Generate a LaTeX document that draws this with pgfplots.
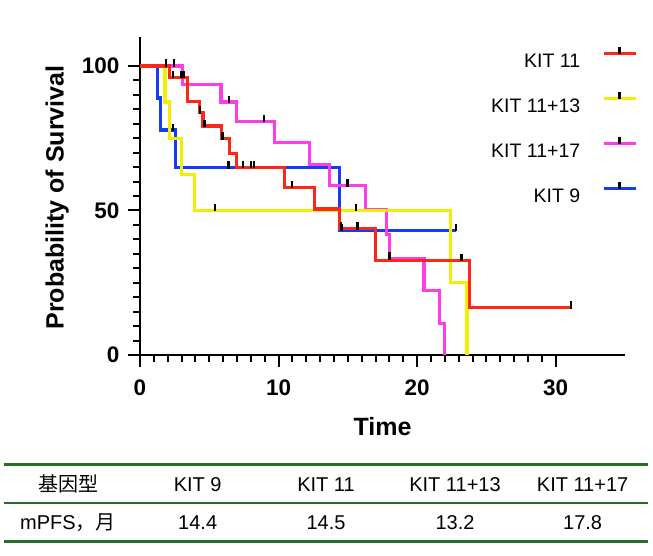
\documentclass[border=0pt]{standalone}
\usepackage{fontspec}
\setmainfont{Liberation Sans}
\newfontfamily\cjk{Noto Sans CJK SC}
\usepackage{pgfplots}
\pgfplotsset{compat=1.18}
\definecolor{kred}{RGB}{250,40,20}
\definecolor{kyel}{RGB}{240,240,0}
\definecolor{kmag}{RGB}{255,60,235}
\definecolor{kblu}{RGB}{20,60,245}
\definecolor{tgreen}{RGB}{40,110,40}
\pgfdeclareplotmark{censor}{\pgfpathmoveto{\pgfpoint{0pt}{-1pt}}\pgfpathlineto{\pgfpoint{0pt}{6.5pt}}\pgfusepathqstroke}
\begin{document}
\begin{tikzpicture}
\path[use as bounding box] (0pt,0pt) rectangle (653pt,-556pt);
\begin{axis}[
  at={(140pt,-355pt)}, anchor=south west,
  scale only axis, width=485pt, height=318pt,
  xmin=0, xmax=35, ymin=0, ymax=110,
  axis lines=left,
  axis line style={-, line width=2.5pt, black},
  xtick={0,10,20,30}, ytick={0,50,100},
  minor x tick num=9, minor y tick num=9,
  tick align=outside,
  major tick length=12pt, minor tick length=7pt,
  every tick/.style={black, line width=2pt},
  /pgf/number format/assume math mode=true,
  tick label style={font=\fontsize{22.5}{26}\selectfont\bfseries},
  xticklabel style={yshift=-9.5pt},
  yticklabel style={xshift=-5pt},
  xlabel={Time}, ylabel={Probability of Survival},
  every axis x label/.style={at={(axis description cs:0.5,-0.226)}, anchor=center, font=\fontsize{25}{30}\selectfont\bfseries},
  every axis y label/.style={at={(axis description cs:-0.171,0.495)}, rotate=90, anchor=center, font=\fontsize{25}{30}\selectfont\bfseries},
  clip=false,
  reverse legend,
  legend cell align=right, legend plot pos=right,
  legend style={draw=none, fill=none, at={(rel axis cs:1.0254,0.972)}, anchor=north east,
    font=\fontsize{19.5}{23}\selectfont, row sep=23pt, column sep=21.7pt, inner sep=0pt,
    nodes={inner sep=0pt, text height=14pt, text depth=0pt}},
]
% KIT 9
\addplot[kblu, line width=3.2pt, const plot,
  legend image code/.code={\draw[kblu,line width=3.2pt] (0pt,7pt) -- (32pt,7pt); \draw[black,line width=2.5pt] (16pt,6.5pt) -- (16pt,13.5pt);}]
  table {
x y
0 100
1.25 88.9
1.5 77.8
2.55 64.8
14.4 43.2
22.8 43.2
};
\addlegendentry{KIT 9}
% KIT 11+17
\addplot[kmag, line width=3.2pt, const plot,
  legend image code/.code={\draw[kmag,line width=3.2pt] (0pt,7pt) -- (32pt,7pt); \draw[black,line width=2.5pt] (16pt,6.5pt) -- (16pt,13.5pt);}]
  table {
x y
0 100
3.05 93.5
5.85 87.5
6.95 80.8
9.7 73.5
12.25 66
13.7 58.6
16.25 50.3
17.8 41.6
18.0 33.3
20.5 22.3
21.6 10.8
22.0 0
};
\addlegendentry{KIT 11+17}
% KIT 11+13
\addplot[kyel, line width=3.2pt, const plot,
  legend image code/.code={\draw[kyel,line width=3.2pt] (0pt,7pt) -- (32pt,7pt); \draw[black,line width=2.5pt] (16pt,6.5pt) -- (16pt,13.5pt);}]
  table {
x y
0 100
1.8 87.5
2.15 75
3.0 62.5
3.95 50
22.4 25
23.6 0
};
\addlegendentry{KIT 11+13}
% KIT 11
\addplot[kred, line width=3.2pt, const plot,
  legend image code/.code={\draw[kred,line width=3.2pt] (0pt,7pt) -- (32pt,7pt); \draw[black,line width=2.5pt] (16pt,6.5pt) -- (16pt,13.5pt);}]
  table {
x y
0 100
2.1 96
3.45 87.7
4.3 83.8
4.55 79.2
5.9 74.8
6.45 69.8
6.95 64.9
10.4 58
12.6 50.5
14.4 43.7
17.0 32.8
23.8 16.4
31.1 16.4
};
\addlegendentry{KIT 11}
% censor marks
\addplot[only marks, mark=censor, mark options={black, line width=2.2pt}, forget plot] table {
x y
2.4 77.8
6.38 64.8
14.6 43.2
22.8 43.2
};
\addplot[only marks, mark=censor, mark options={black, line width=2.2pt}, forget plot] table {
x y
2.45 100
6.4 87.5
8.96 80.8
14.98 58.6
18.0 33.3
};
\addplot[only marks, mark=censor, mark options={black, line width=2.2pt}, forget plot] table {
x y
5.4 50
15.6 50
};
\addplot[only marks, mark=censor, mark options={black, line width=2.2pt}, forget plot] table {
x y
1.9 100
2.4 96
3.0 96
3.2 96
4.35 83.8
4.66 79.2
5.96 74.8
7.45 64.9
8.0 64.9
8.2 64.9
10.96 58
14.5 43.7
15.7 43.7
23.2 32.8
31.1 16.4
};
\end{axis}
% table
\draw[tgreen, line width=3pt] (4pt,-464pt) -- (648pt,-464pt);
\draw[tgreen, line width=2pt] (4pt,-502.5pt) -- (648pt,-502.5pt);
\draw[tgreen, line width=3pt] (4pt,-541pt) -- (648pt,-541pt);
\begin{scope}[every node/.style={font=\fontsize{20}{24}\selectfont, inner sep=0pt, text height=14pt, text depth=0pt, anchor=center}]
\node at (68pt,-484pt) {\cjk 基因型};
\node at (197.7pt,-484pt) {KIT 9};
\node at (326pt,-484pt) {KIT 11};
\node at (455pt,-484pt) {KIT 11+13};
\node at (582.6pt,-484pt) {KIT 11+17};
\node at (68pt,-522pt) {mPFS{\cjk ，月}};
\node at (197.7pt,-522pt) {14.4};
\node at (326pt,-522pt) {14.5};
\node at (455pt,-522pt) {13.2};
\node at (582.6pt,-522pt) {17.8};
\end{scope}
\end{tikzpicture}
\end{document}
